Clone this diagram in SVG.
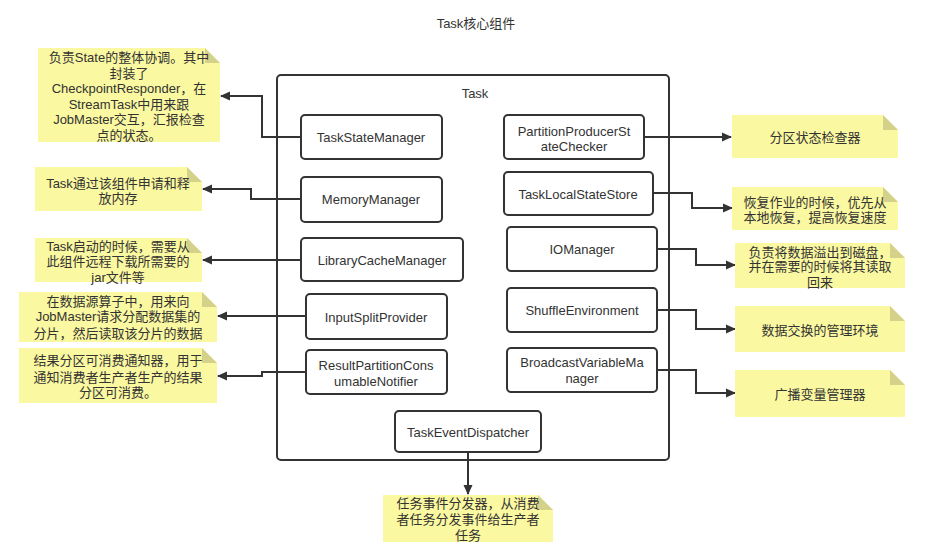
<svg xmlns="http://www.w3.org/2000/svg" width="946" height="559" viewBox="0 0 946 559">
<defs>
<style>
text{font-family:"Liberation Sans","Noto Sans CJK SC",sans-serif;font-size:13px;fill:#333;text-anchor:middle}
.box{fill:#fff;stroke:#333;stroke-width:2}
.note{fill:#faf8a0;stroke:none}
.fold{fill:#d4d28a}
.con{fill:none;stroke:#333;stroke-width:2}
</style>
<marker id="arr" viewBox="0 0 10 10" refX="9" refY="5" markerWidth="10" markerHeight="10" markerUnits="userSpaceOnUse" orient="auto">
<path d="M0 0.5 L10 5 L0 9.5 Z" fill="#333"/>
</marker>
</defs>
<rect width="946" height="559" fill="#fff"/>
<text x="476" y="28">Task核心组件</text>

<g id="task">
<rect class="box" x="277" y="75" width="392" height="385" rx="4"/>
<text x="475" y="98">Task</text>
</g>

<g id="connectors">
<path class="con" marker-end="url(#arr)" d="M301 137 H262 V96 H221"/>
<path class="con" marker-end="url(#arr)" d="M301 199 H251 V189 H203"/>
<path class="con" marker-end="url(#arr)" d="M301 260 H203"/>
<path class="con" marker-end="url(#arr)" d="M306 316 H218"/>
<path class="con" marker-end="url(#arr)" d="M306 372 H262 V376 H218"/>
<path class="con" marker-end="url(#arr)" d="M644 137 H731"/>
<path class="con" marker-end="url(#arr)" d="M653 193 H692 V208 H732"/>
<path class="con" marker-end="url(#arr)" d="M657 249 H696 V265 H735"/>
<path class="con" marker-end="url(#arr)" d="M657 310 H696 V329 H735"/>
<path class="con" marker-end="url(#arr)" d="M657 370 H696 V393 H735"/>
<path class="con" marker-end="url(#arr)" d="M468 452 V494"/>
</g>

<g id="TaskStateManager"><rect class="box" x="301" y="115" width="141" height="44" rx="4"/><text x="371" y="142">TaskStateManager</text></g>
<g id="MemoryManager"><rect class="box" x="301" y="177" width="141" height="45" rx="4"/><text x="371" y="204">MemoryManager</text></g>
<g id="LibraryCacheManager"><rect class="box" x="301" y="238" width="162" height="43" rx="4"/><text x="382" y="265">LibraryCacheManager</text></g>
<g id="InputSplitProvider"><rect class="box" x="306" y="294" width="141" height="45" rx="4"/><text x="376" y="322">InputSplitProvider</text></g>
<g id="ResultPartitionConsumableNotifier"><rect class="box" x="306" y="350" width="141" height="44" rx="4"/><text x="376" y="370">ResultPartitionCons</text><text x="376" y="386">umableNotifier</text></g>
<g id="TaskEventDispatcher"><rect class="box" x="395" y="411" width="146" height="41" rx="4"/><text x="468" y="437">TaskEventDispatcher</text></g>
<g id="PartitionProducerStateChecker"><rect class="box" x="504" y="115" width="140" height="44" rx="4"/><text x="574" y="136">PartitionProducerSt</text><text x="574" y="151">ateChecker</text></g>
<g id="TaskLocalStateStore"><rect class="box" x="504" y="172" width="149" height="43" rx="4"/><text x="578" y="199">TaskLocalStateStore</text></g>
<g id="IOManager"><rect class="box" x="507" y="227" width="150" height="44" rx="4"/><text x="582" y="254">IOManager</text></g>
<g id="ShuffleEnvironment"><rect class="box" x="507" y="288" width="150" height="44" rx="4"/><text x="582" y="315">ShuffleEnvironment</text></g>
<g id="BroadcastVariableManager"><rect class="box" x="507" y="348" width="150" height="44" rx="4"/><text x="582" y="367">BroadcastVariableMa</text><text x="582" y="383">nager</text></g>

<g id="note-tsm">
<path class="note" d="M38 48 H205 L220 63 V142 H38 Z"/><path class="fold" d="M205 48 L220 63 H205 Z"/>
<text x="129" y="62">负责State的整体协调。其中</text>
<text x="129" y="78">封装了</text>
<text x="129" y="93">CheckpointResponder，在</text>
<text x="129" y="109">StreamTask中用来跟</text>
<text x="129" y="124">JobMaster交互，汇报检查</text>
<text x="129" y="140">点的状态。</text>
</g>
<g id="note-mem">
<path class="note" d="M35 167 H187 L202 182 V211 H35 Z"/><path class="fold" d="M187 167 L202 182 H187 Z"/>
<text x="118" y="188">Task通过该组件申请和释</text>
<text x="118" y="203">放内存</text>
</g>
<g id="note-lib">
<path class="note" d="M35 238 H187 L202 253 V282 H35 Z"/><path class="fold" d="M187 238 L202 253 H187 Z"/>
<text x="118" y="251">Task启动的时候，需要从</text>
<text x="118" y="266">此组件远程下载所需要的</text>
<text x="118" y="282">jar文件等</text>
</g>
<g id="note-isp">
<path class="note" d="M19 292 H202 L217 307 V342 H19 Z"/><path class="fold" d="M202 292 L217 307 H202 Z"/>
<text x="118" y="306">在数据源算子中，用来向</text>
<text x="118" y="321">JobMaster请求分配数据集的</text>
<text x="118" y="338">分片，然后读取该分片的数据</text>
</g>
<g id="note-rpcn">
<path class="note" d="M19 348 H202 L217 363 V403 H19 Z"/><path class="fold" d="M202 348 L217 363 H202 Z"/>
<text x="118" y="365">结果分区可消费通知器，用于</text>
<text x="118" y="382">通知消费者生产者生产的结果</text>
<text x="118" y="397">分区可消费。</text>
</g>
<g id="note-ted">
<path class="note" d="M383 495 H538 L553 510 V542 H383 Z"/><path class="fold" d="M538 495 L553 510 H538 Z"/>
<text x="468" y="508">任务事件分发器，从消费</text>
<text x="468" y="524">者任务分发事件给生产者</text>
<text x="468" y="540">任务</text>
</g>
<g id="note-ppsc">
<path class="note" d="M732 115 H883 L898 130 V158 H732 Z"/><path class="fold" d="M883 115 L898 130 H883 Z"/>
<text x="815" y="142">分区状态检查器</text>
</g>
<g id="note-tlss">
<path class="note" d="M732 187 H883 L898 202 V230 H732 Z"/><path class="fold" d="M883 187 L898 202 H883 Z"/>
<text x="815" y="207">恢复作业的时候，优先从</text>
<text x="815" y="222">本地恢复，提高恢复速度</text>
</g>
<g id="note-io">
<path class="note" d="M735 243 H890 L905 258 V288 H735 Z"/><path class="fold" d="M890 243 L905 258 H890 Z"/>
<text x="820" y="257">负责将数据溢出到磁盘，</text>
<text x="820" y="271">并在需要的时候将其读取</text>
<text x="820" y="287">回来</text>
</g>
<g id="note-shuffle">
<path class="note" d="M735 306 H890 L905 321 V352 H735 Z"/><path class="fold" d="M890 306 L905 321 H890 Z"/>
<text x="820" y="335">数据交换的管理环境</text>
</g>
<g id="note-bvm">
<path class="note" d="M735 370 H890 L905 385 V417 H735 Z"/><path class="fold" d="M890 370 L905 385 H890 Z"/>
<text x="820" y="399">广播变量管理器</text>
</g>
</svg>
